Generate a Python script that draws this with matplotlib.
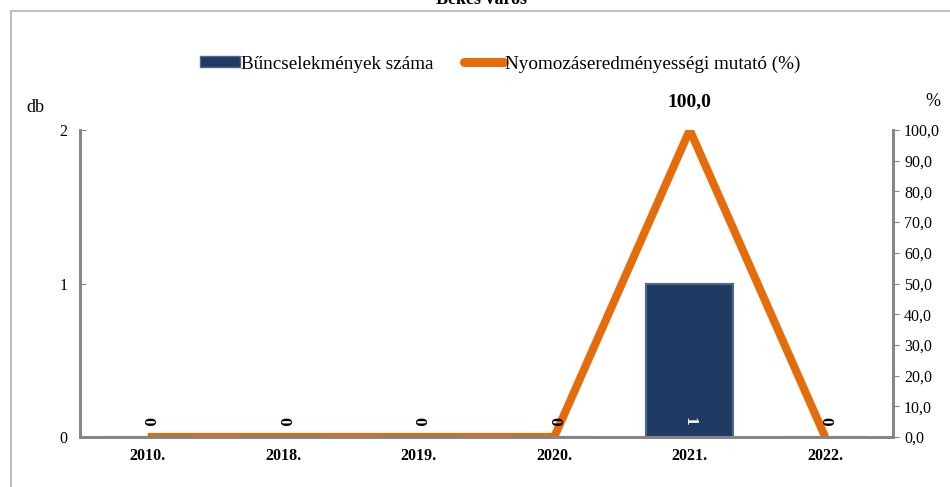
import numpy as np
import matplotlib.pyplot as plt
from matplotlib.lines import Line2D

plt.rcParams["font.family"] = ["Liberation Serif", "DejaVu Serif"]

years = ["2010.", "2018.", "2019.", "2020.", "2021.", "2022."]
crimes = [0, 0, 0, 0, 1, 0]
rate = [0.0, 0.0, 0.0, 0.0, 100.0, 0.0]
rate_labels = {4: "100,0"}

bar_color = "#1F3B63"
line_color = "#E46C0A"
axis_gray = "#868686"

W, H = 950, 487
fig = plt.figure(figsize=(9.5, 4.87), dpi=100)
ax = fig.add_axes([80 / W, (H - 437) / H, (893 - 80) / W, (437 - 130) / H])
ax2 = ax.twinx()

x = np.arange(len(years))
ax.bar(x, crimes, width=0.64, color=bar_color, edgecolor="#4A6A94",
       linewidth=1.5, zorder=2, label="Bűncselekmények száma")
ax.set_ylim(0, 2)
ax.set_xlim(-0.5, len(years) - 0.5)
ax.set_yticks([0, 1, 2])
ax.set_xticks(x)
ax.set_xticklabels(years, fontweight="bold", fontsize=11.5)
ax.tick_params(axis="x", length=0, pad=8)
ax.tick_params(axis="y", direction="in", length=4, color=axis_gray,
               labelsize=11.5, pad=9)

for i, v in enumerate(crimes):
    ax.text(x[i], 0.1, str(v), rotation=270, ha="center", va="center",
            fontsize=12.5, fontweight="bold",
            color="white" if v > 0 else "black", zorder=5)

ax2.plot(x, rate, color=line_color, lw=5.8, solid_capstyle="butt",
         solid_joinstyle="miter", zorder=3)
ax2.set_ylim(0, 100)
ax2.set_yticks(np.arange(0, 101, 10))
ax2.set_yticklabels([f"{t:.1f}".replace(".", ",") for t in np.arange(0, 101, 10)])
ax2.tick_params(axis="y", direction="out", length=4, color=axis_gray,
                labelsize=11.5, pad=4)
for i, lab in rate_labels.items():
    ax2.text(x[i], rate[i] + 6.5, lab, ha="center", va="bottom",
             fontsize=14, fontweight="bold")

for a in (ax, ax2):
    a.spines["top"].set_visible(False)
    for s in ("left", "right", "bottom"):
        a.spines[s].set_color(axis_gray)
        a.spines[s].set_linewidth(2)
ax.set_zorder(ax2.get_zorder() + 1)
ax.patch.set_visible(False)

fig.text(35 / W, (H - 107) / H, "db", ha="center", va="center", fontsize=13)
fig.text(933 / W, (H - 102) / H, "%", ha="center", va="center", fontsize=13)

handles = [
    plt.Rectangle((0, 0), 1, 1, facecolor=bar_color, edgecolor="#4A6A94"),
    Line2D([0], [0], color=line_color, lw=6.5, solid_capstyle="round"),
]
fig.legend(handles, ["Bűncselekmények száma", "Nyomozáseredményességi mutató (%)"],
           loc="center", bbox_to_anchor=(500 / W, (H - 64) / H), ncol=2,
           frameon=False, fontsize=13.8, handlelength=2.1, handleheight=0.5,
           handletextpad=0.05, columnspacing=1.6)

fig.text(482 / W, (H - 3.5) / H, "Békés város", ha="center", va="baseline",
         fontsize=13, fontweight="bold")

frame = dict(color="#BFBFBF", lw=1.5, transform=fig.transFigure)
fig.add_artist(Line2D([11 / W, 1.0], [(H - 11) / H] * 2, **frame))
fig.add_artist(Line2D([11 / W] * 2, [0.0, (H - 11) / H], **frame))

fig.savefig("out.png", dpi=100)
